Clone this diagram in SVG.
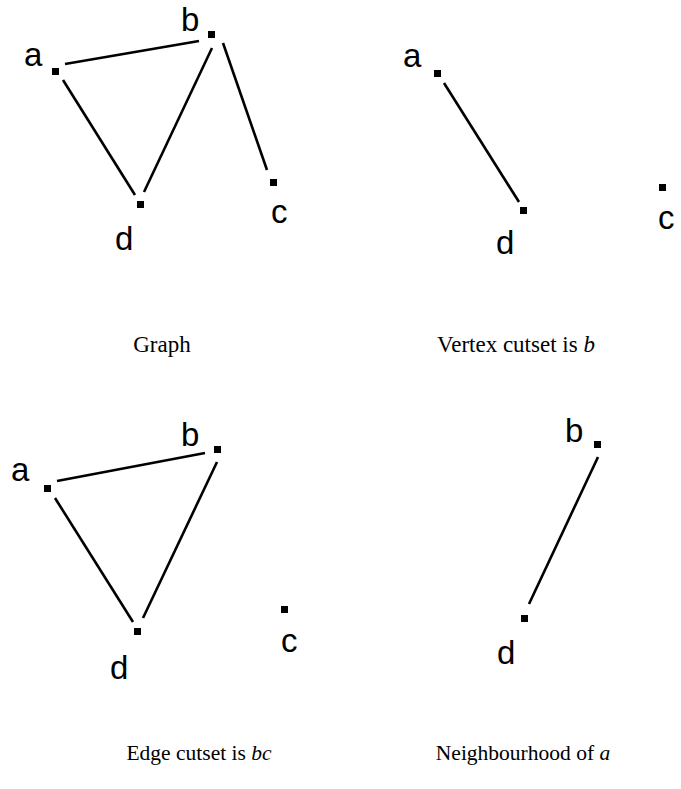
<svg xmlns="http://www.w3.org/2000/svg" width="681" height="789" viewBox="0 0 681 789">
<style>
.lbl{font-family:"Liberation Sans",Arial,sans-serif;font-size:33px;fill:#000}
.cap{font-family:"Liberation Serif","Times New Roman",serif;font-size:23px;fill:#000;text-anchor:middle}
.cap2{font-size:21.5px}
.edge{stroke:#000;stroke-width:2.6;fill:none;stroke-linecap:butt}
.pt{fill:#000}
</style>
<rect width="681" height="789" fill="#fff"/>
<g id="connectors">
<line class="edge" x1="65" y1="64" x2="199" y2="41"/>
<line class="edge" x1="63" y1="80" x2="135" y2="195"/>
<line class="edge" x1="212" y1="48" x2="144" y2="192"/>
<line class="edge" x1="223" y1="43" x2="267" y2="170"/>
<line class="edge" x1="444" y1="83" x2="519" y2="202"/>
<line class="edge" x1="57" y1="481" x2="205" y2="453"/>
<line class="edge" x1="55" y1="498" x2="133" y2="622"/>
<line class="edge" x1="217" y1="462" x2="143" y2="618"/>
<line class="edge" x1="598" y1="457" x2="529" y2="604"/>
</g>
<g id="g1-a"><rect class="pt" x="52" y="68" width="7" height="7"/><text class="lbl" x="24" y="66">a</text></g>
<g id="g1-b"><rect class="pt" x="208" y="31" width="7" height="7"/><text class="lbl" x="181" y="31">b</text></g>
<g id="g1-c"><rect class="pt" x="270" y="179" width="7" height="7"/><text class="lbl" x="271" y="223">c</text></g>
<g id="g1-d"><rect class="pt" x="137" y="201" width="7" height="7"/><text class="lbl" x="115" y="250">d</text></g>
<g id="g2-a"><rect class="pt" x="434" y="70" width="7" height="7"/><text class="lbl" x="403" y="67">a</text></g>
<g id="g2-d"><rect class="pt" x="520" y="207" width="7" height="7"/><text class="lbl" x="496" y="254">d</text></g>
<g id="g2-c"><rect class="pt" x="659" y="184" width="7" height="7"/><text class="lbl" x="658" y="229">c</text></g>
<g id="g3-a"><rect class="pt" x="44" y="485" width="7" height="7"/><text class="lbl" x="11" y="481">a</text></g>
<g id="g3-b"><rect class="pt" x="214" y="446" width="7" height="7"/><text class="lbl" x="181" y="446">b</text></g>
<g id="g3-c"><rect class="pt" x="281" y="606" width="7" height="7"/><text class="lbl" x="281" y="652">c</text></g>
<g id="g3-d"><rect class="pt" x="134" y="628" width="7" height="7"/><text class="lbl" x="110" y="679">d</text></g>
<g id="g4-b"><rect class="pt" x="594" y="441" width="7" height="7"/><text class="lbl" x="565" y="442">b</text></g>
<g id="g4-d"><rect class="pt" x="521" y="615" width="7" height="7"/><text class="lbl" x="497" y="664">d</text></g>
<g id="captions">
<text class="cap" x="162" y="352">Graph</text>
<text class="cap" x="516" y="352">Vertex cutset is <tspan font-style="italic">b</tspan></text>
<text class="cap cap2" x="199" y="760">Edge cutset is <tspan font-style="italic">bc</tspan></text>
<text class="cap cap2" x="523" y="760">Neighbourhood of <tspan font-style="italic">a</tspan></text>
</g>
</svg>
